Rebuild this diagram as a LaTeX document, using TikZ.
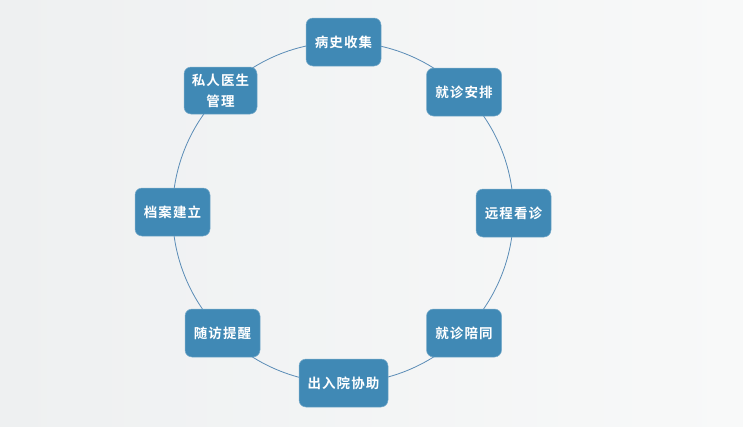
\documentclass[tikz,border=0pt]{standalone}
\usepackage{fontspec}
\newfontfamily\cjk{Noto Sans CJK SC}[BoldFont={* Bold}, LetterSpace=8]
\definecolor{boxblue}{RGB}{64,137,181}
\definecolor{ringblue}{RGB}{90,140,182}
\definecolor{bgleft}{RGB}{238,240,241}
\definecolor{bgright}{RGB}{248,249,249}
\tikzset{
  stagebox/.style={rectangle, rounded corners=7pt, fill=boxblue, draw=boxblue!70!white, line width=0.5pt,
    minimum width=75pt, minimum height=48pt, inner sep=2pt, align=center, text=white,
    font=\cjk\bfseries\fontsize{13.5}{21}\selectfont},
  ring/.style={draw=ringblue, line width=0.8pt}
}
\begin{document}
\begin{tikzpicture}[x=1pt,y=-1pt]
\useasboundingbox (0,0) rectangle (743,426);
\shade[left color=bgleft, right color=bgright] (0,0) rectangle (743,426);
\coordinate (c) at (343,212.5);
\draw[ring] (c) circle[radius=170.5];
\node[stagebox] (n1) at (343.5,42) {病史收集};
\node[stagebox] (n2) at (464,92) {就诊安排};
\node[stagebox] (n3) at (513.5,213) {远程看诊};
\node[stagebox] (n4) at (464,333) {就诊陪同};
\node[stagebox, minimum width=89pt] (n5) at (343.5,383) {出入院协助};
\node[stagebox] (n6) at (222.5,333) {随访提醒};
\node[stagebox] (n7) at (172.5,212) {档案建立};
\node[stagebox, minimum width=73pt, minimum height=47pt] (n8) at (220.5,90.5) {私人医生\\管理};
\end{tikzpicture}
\end{document}
